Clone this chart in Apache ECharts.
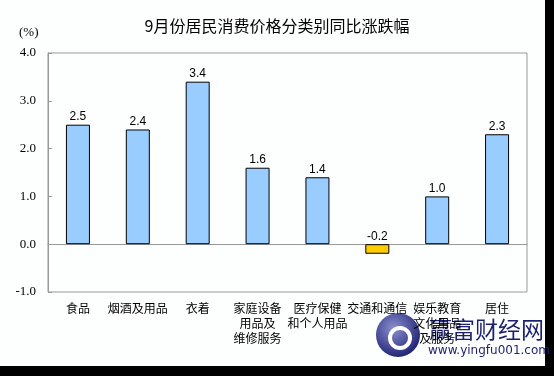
<!DOCTYPE html>
<html>
<head>
<meta charset="utf-8">
<title>9月份居民消费价格分类别同比涨跌幅</title>
<script src="https://cdn.jsdelivr.net/npm/echarts@6/dist/echarts.min.js"></script>
<style>
	html, body { margin: 0; padding: 0; background: #fdfefe; }
	#chart1 { width: 554px; height: 376px; }
</style>
</head>
<body>
<div id="chart1"></div>
<script>
// 分类名称
var categories = ['食品', '烟酒及用品', '衣着', '家庭设备\n用品及\n维修服务',
	'医疗保健\n和个人用品', '交通和通信', '娱乐教育\n文化用品\n及服务', '居住'];
// 同比涨跌幅(%)
var values = [2.5, 2.4, 3.4, 1.6, 1.4, -0.2, 1.0, 2.3];
// 纵轴刻度
var yMin = -1, yMax = 4, yStep = 1;

var myChart = echarts.init(document.getElementById('chart1'));

var option = {
	backgroundColor: '#fdfefe',
	animation: false,
	title: {
		text: '9月份居民消费价格分类别同比涨跌幅',
		left: 272,
		top: 13,
		textAlign: 'center',
		textStyle: { fontSize: 16, fontWeight: 'normal', color: '#000', fontFamily: 'Noto Sans CJK SC' }
	},
	grid: {
		left: 48, right: 27, top: 53, bottom: 84,
		containLabel: false, outerBoundsMode: 'none',
		show: true, borderColor: '#999', borderWidth: 1
	},
	xAxis: {
		type: 'category',
		data: categories,
		axisLine: { onZero: true, lineStyle: { color: '#999' } },
		axisTick: { show: false },
		axisLabel: {
			interval: 0,
			color: '#000',
			fontSize: 12,
			lineHeight: 15,
			fontFamily: 'Noto Sans CJK SC',
			verticalAlign: 'top',
			margin: 9
		}
	},
	yAxis: {
		type: 'value',
		min: yMin,
		max: yMax,
		interval: yStep,
		splitLine: { show: false },
		axisLine: { show: true, lineStyle: { color: '#999' } },
		axisTick: { show: true, inside: true, length: 4, lineStyle: { color: '#999' } },
		axisLabel: {
			color: '#000',
			fontSize: 13,
			margin: 12,
			fontFamily: 'Liberation Serif',
			formatter: function(v) { return v.toFixed(1); }
		}
	},
	series: [{
		type: 'bar',
		data: values,
		barWidth: 24,
		itemStyle: {
			borderColor: '#000',
			borderWidth: 1,
			color: function(params) {
				return params.value < 0 ? '#ffcc00' : '#99ccff';
			}
		},
		label: {
			show: true,
			position: 'top',
			distance: 2,
			color: '#000',
			fontSize: 12,
			fontFamily: 'Liberation Sans',
			formatter: function(p) { return p.value.toFixed(1); }
		}
	}],
	graphic: [
		// (%) 单位
		{ type: 'text', left: 19, top: 26, style: { text: '(%)', fontSize: 13, fontFamily: 'Liberation Serif', fill: '#000' } },
		// 右侧及底部黑边
		{ type: 'rect', shape: { x: 545, y: 0, width: 9, height: 376 }, style: { fill: '#000' } },
		{ type: 'rect', shape: { x: 0, y: 366, width: 554, height: 10 }, style: { fill: '#000' } },
		// 水印
		{ type: 'circle', shape: { cx: 398, cy: 335, r: 22 },
			style: { fill: new echarts.graphic.RadialGradient(0.4, 0.35, 0.7, [
				{ offset: 0, color: '#8a8fd0' }, { offset: 1, color: '#1c1f6e' }]) } },
		{ type: 'circle', shape: { cx: 400, cy: 338, r: 10 }, style: { fill: 'none', stroke: '#fff', lineWidth: 4 } },
		{ type: 'text', left: 429, top: 318, style: { text: '赢富财经网', fontSize: 23, fontFamily: 'Noto Sans CJK SC', fill: '#1c1f6e' } },
		{ type: 'text', left: 428, top: 345, style: { text: 'www.yingfu001.com', fontSize: 12, fontFamily: 'DejaVu Sans', fill: '#1c1f6e' } }
	]
};
myChart.setOption(option);
</script>
</body>
</html>
